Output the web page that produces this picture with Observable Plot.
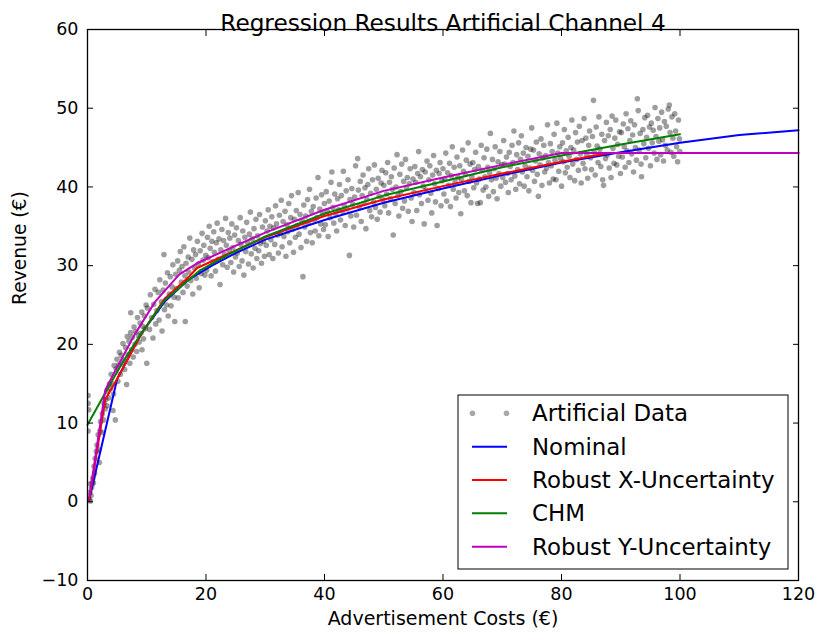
<!DOCTYPE html>
<html>
<head>
<meta charset="utf-8">
<script src="https://cdn.jsdelivr.net/npm/d3@7"></script>
<script src="https://cdn.jsdelivr.net/npm/@observablehq/plot@0.6"></script>
<style>
  body { margin: 0; background: #fff; }
  #chart svg { display: block; }
</style>
</head>
<body>
<div id="chart"></div>
<script>
const chartTitle = "Regression Results Artificial Channel 4";
const xLabel = "Advertisement Costs (€)";
const yLabel = "Revenue (€)";
const xTicks = [0, 20, 40, 60, 80, 100, 120];
const yTicks = [-10, 0, 10, 20, 30, 40, 50, 60];
const legendNames = ["Artificial Data", "Nominal", "Robust X-Uncertainty", "CHM", "Robust Y-Uncertainty"];
const legendColors = ["#000000", "#0000ff", "#ff0000", "#008000", "#bf00bf"];

// Fitted curves
const nominalCost = [0.3, 5, 9, 13, 17, 21, 25, 30, 40, 50, 60, 70, 80, 90, 100, 110, 120];
const nominalRevenue = [0.3, 15.6, 21.3, 25.4, 28.2, 30.0, 31.6, 33.3, 35.8, 38.0, 39.8, 41.5, 43.1, 44.4, 45.6, 46.6, 47.2];
const robustXCost = [0.3, 3, 5, 9, 13, 17, 18.5, 24, 30, 40, 50, 60, 70, 80, 88, 120];
const robustXRevenue = [0.3, 13.0, 15.6, 21.2, 25.8, 28.5, 29.7, 31.6, 33.6, 36.3, 38.4, 40.1, 41.7, 43.2, 44.3, 44.3];
const chmCost = [0, 4, 6, 9, 13, 19, 24, 30, 40, 50, 60, 70, 80, 90, 100];
const chmRevenue = [9.8, 15.2, 17.8, 21.3, 25.6, 29.4, 31.5, 33.7, 36.6, 38.9, 40.7, 42.5, 44.0, 45.4, 46.7];
const robustYCost = [0.3, 3, 5, 8, 11.5, 15.5, 18.5, 24, 30, 40, 50, 60, 70, 80, 120];
const robustYRevenue = [0.5, 14.2, 17.1, 21.3, 25.5, 28.9, 30.3, 32.2, 34.2, 37.1, 39.5, 41.2, 42.8, 44.3, 44.3];

// Artificial data points [cost, revenue]
const artificialData = [
[0.1,13.5],[0.1,12.5],[0.2,11.7],[0.1,9.0],[0.3,0.3],[0.4,1.2],[0.5,2.3],[0.6,0.8],[0.7,1.8],[0.8,2.4],[0.5,0.1],[1.0,2.4],[1.1,4.5],[1.2,3.6],[1.3,5.5],[1.5,6.4],[1.6,7.2],[1.8,8.5],[1.9,6.6],[2.1,9.0],[2.2,10.2],[2.4,8.8],[2.5,11.2],[2.7,10.4],[2.8,12.5],[3.0,11.8],[3.1,13.0],[3.3,12.2],[3.4,14.0],[3.6,13.2],[3.7,15.0],[3.9,14.4],[4.0,16.2],[4.2,15.0],[4.4,13.7],[4.5,17.3],[4.3,11.6],[2.0,5.0],[0.9,3.0],[4.7,10.4],
[4.83,16.9],[4.97,18.1],[5.12,15.3],[5.26,17.4],[5.4,19.0],[5.55,16.2],[5.69,18.6],[5.84,17.5],[5.98,20.1],[6.13,18.0],[6.27,16.8],[6.42,19.6],[6.6,14.9],[6.71,21.0],[6.85,18.7],[7.0,20.4],[7.14,17.6],[7.28,21.5],[7.3,24.0],[7.43,19.3],[7.57,20.9],[7.72,18.4],[7.86,22.2],[8.01,20.0],[8.15,21.6],[8.3,19.1],[8.44,23.4],[8.59,21.1],[8.73,20.3],[8.88,22.7],[9.02,21.4],[9.16,24.1],[9.2,19.3],[9.31,22.3],[9.45,20.7],[9.6,23.6],[9.74,22.0],[9.89,25.0],[10.0,17.6],
[10.12,24.6],[10.47,21.9],[10.61,26.3],[10.83,23.4],[11.05,20.8],[11.18,25.1],[11.39,27.0],[11.52,22.6],[11.71,24.3],[11.94,26.6],[12.08,23.1],[12.21,28.2],[12.46,25.4],[12.58,21.7],[12.77,26.9],[12.9,31.4],[12.99,24.4],[13.14,27.8],[13.33,25.0],[13.49,29.1],[13.62,23.6],[13.8,26.4],[13.97,28.6],[14.1,24.9],[14.28,27.3],[14.41,30.1],[14.6,26.0],[14.73,22.9],[14.88,28.9],
[15.03,27.1],[15.22,30.6],[15.31,25.9],[15.5,29.4],[15.66,31.8],[15.84,27.9],[15.95,29.9],[16.11,26.6],[16.27,32.4],[16.45,28.7],[16.5,22.9],[16.63,30.3],[16.82,27.4],[16.99,31.1],[17.1,29.2],[17.26,33.5],[17.43,28.1],[17.61,30.8],[17.77,26.4],[17.9,32.0],[18.06,29.7],[18.24,31.4],[18.37,28.4],[18.55,33.1],[18.69,30.2],[18.85,27.2],[19.02,31.9],[19.18,29.0],[19.34,34.1],[19.5,30.7],[19.63,32.6],[19.81,28.8],[19.96,31.3],
[20.09,29.4],[20.25,33.6],[20.38,31.0],[20.54,35.0],[20.7,32.2],[20.86,28.7],[20.99,33.1],[21.13,30.5],[21.31,34.3],[21.42,31.7],[21.6,29.3],[21.75,32.9],[21.88,35.4],[22.04,30.8],[22.19,33.4],[22.37,27.6],[22.5,32.0],[22.68,34.6],[22.81,30.1],[22.97,33.2],[23.12,31.4],[23.3,36.0],[23.44,32.6],[23.57,29.8],[23.75,34.2],[23.91,31.9],[24.03,33.5],[24.2,30.4],[24.36,35.3],[24.52,32.3],[24.67,29.2],[24.84,33.9],[24.98,31.1],
[25.14,34.8],[25.29,31.6],[25.46,33.2],[25.61,29.9],[25.77,36.1],[25.9,32.7],[26.08,30.6],[26.21,34.4],[26.39,28.8],[26.55,33.6],[26.7,31.8],[26.86,35.5],[27.02,32.9],[27.17,30.2],[27.33,34.0],[27.49,36.8],[27.64,31.5],[27.8,33.4],[27.96,29.7],[28.1,34.7],[28.27,32.2],[28.43,35.9],[28.58,30.9],[28.71,33.8],[28.9,31.9],[29.04,36.5],[29.2,32.8],[29.36,30.3],[29.53,34.9],[29.68,33.1],[29.85,31.2],
[30.02,35.7],[30.18,32.6],[30.31,34.4],[30.5,37.1],[30.66,31.4],[30.79,35.0],[30.95,33.3],[31.11,36.2],[31.28,30.9],[31.43,34.8],[31.6,32.7],[31.74,37.6],[31.9,35.3],[32.07,33.9],[32.22,31.6],[32.39,36.4],[32.55,34.1],[32.7,38.3],[32.84,32.4],[33.01,35.6],[33.16,33.7],[33.34,36.9],[33.49,31.2],[33.66,35.2],[33.81,34.3],[33.97,37.9],[34.13,32.9],[34.3,36.1],[34.44,38.9],[34.6,34.6],[34.77,31.7],[34.92,35.9],
[35.08,33.6],[35.24,37.0],[35.39,35.1],[35.56,39.3],[35.71,34.0],[35.88,36.5],[36.03,32.3],[36.2,35.7],[36.36,28.6],[36.5,37.7],[36.67,34.9],[36.83,36.3],[36.98,33.1],[37.14,38.4],[37.3,35.4],[37.47,39.7],[37.62,34.2],[37.78,36.9],[37.94,32.9],[38.1,37.5],[38.25,35.8],[38.42,34.4],[38.58,38.6],[38.73,36.1],[38.9,41.2],[39.05,33.8],[39.2,37.2],[39.37,35.3],[39.52,39.0],[39.69,36.6],[39.84,34.6],[39.98,37.9],
[40.15,35.2],[40.3,39.4],[40.47,36.9],[40.62,33.7],[40.79,38.2],[40.94,36.1],[41.1,40.6],[41.25,41.9],[41.42,37.4],[41.57,35.4],[41.73,39.1],[41.9,36.6],[42.05,34.4],[42.21,38.5],[42.38,37.1],[42.53,40.3],[42.7,35.8],[42.85,38.9],[43.02,36.9],[43.18,42.0],[43.33,37.6],[43.5,35.1],[43.66,39.5],[43.82,37.2],[43.97,40.9],[44.2,31.3],[44.29,38.4],[44.44,36.3],[44.61,39.8],[44.77,37.8],[44.93,34.9],
[45.08,38.7],[45.25,42.7],[45.4,36.4],[45.6,43.6],[45.72,39.6],[45.88,37.5],[46.04,40.7],[46.2,35.6],[46.35,38.9],[46.51,41.5],[46.68,37.9],[46.83,39.9],[46.99,34.7],[47.15,38.4],[47.31,40.3],[47.46,42.3],[47.63,37.0],[47.78,39.2],[47.95,36.2],[48.1,40.9],[48.27,38.1],[48.42,42.8],[48.59,37.4],[48.74,39.7],[48.9,35.9],[49.06,41.1],[49.21,38.8],[49.38,36.8],[49.55,40.5],[49.7,42.1],[49.86,38.4],
[50.02,40.2],[50.18,37.6],[50.34,41.8],[50.49,39.1],[50.66,43.1],[50.81,36.7],[50.97,40.6],[51.13,38.5],[51.29,41.3],[51.45,39.7],[51.6,33.9],[51.76,42.4],[51.92,37.9],[52.08,40.0],[52.24,44.1],[52.39,38.9],[52.55,36.3],[52.72,41.6],[52.87,39.4],[53.03,42.9],[53.19,37.3],[53.35,40.7],[53.5,38.2],[53.67,43.5],[53.82,39.9],[53.98,41.2],[54.14,36.9],[54.3,40.4],[54.45,42.3],[54.62,38.6],[54.78,35.6],[54.93,41.0],
[55.1,39.3],[55.25,42.6],[55.41,40.6],[55.57,37.0],[55.73,41.7],[55.89,44.5],[56.04,39.0],[56.2,41.3],[56.36,37.9],[56.52,42.2],[56.67,40.1],[56.83,35.3],[56.99,41.9],[57.15,39.6],[57.3,43.3],[57.46,38.3],[57.62,40.9],[57.78,42.7],[57.94,39.2],[58.1,36.7],[58.25,41.5],[58.41,44.0],[58.57,40.4],[58.73,38.1],[58.88,42.1],[59.0,35.1],[59.2,39.8],[59.35,41.7],[59.51,43.1],[59.67,37.6],[59.83,40.8],
[60.0,42.3],[60.15,39.1],[60.31,41.0],[60.47,44.3],[60.62,38.2],[60.78,41.8],[60.94,40.2],[61.1,43.0],[61.26,37.5],[61.41,41.4],[61.57,45.1],[61.73,39.7],[61.89,42.5],[62.04,40.6],[62.2,38.6],[62.36,43.8],[62.52,41.2],[62.67,39.3],[62.83,42.7],[63.0,36.6],[63.14,40.9],[63.3,44.7],[63.46,42.0],[63.62,39.5],[63.78,41.6],[63.93,43.4],[64.09,38.9],[64.25,45.6],[64.41,40.7],[64.56,42.9],[64.72,38.0],[64.88,41.3],
[65.04,43.1],[65.19,39.9],[65.35,42.2],[65.51,44.4],[65.67,40.5],[65.82,37.9],[65.98,42.6],[66.14,41.0],[66.3,38.0],[66.45,45.3],[66.61,42.1],[66.77,39.6],[66.93,43.7],[67.08,41.3],[67.24,40.0],[67.4,44.8],[67.56,42.5],[67.71,38.8],[67.87,41.8],[68.0,46.8],[68.18,40.9],[68.34,43.5],[68.5,39.4],[68.66,42.3],[68.81,45.1],[68.97,41.1],[69.13,38.5],[69.29,43.2],[69.45,41.7],[69.6,44.5],[69.76,40.1],[69.92,42.8],
[70.08,41.2],[70.24,45.9],[70.39,42.9],[70.55,40.6],[70.71,43.8],[70.87,41.7],[71.02,39.3],[71.18,44.4],[71.34,42.6],[71.5,40.9],[71.65,45.3],[71.81,43.1],[71.97,47.1],[72.13,41.4],[72.28,39.7],[72.44,44.1],[72.6,42.2],[72.76,45.6],[72.92,40.4],[73.07,43.5],[73.23,46.5],[73.39,41.9],[73.55,44.3],[73.7,40.1],[73.86,42.7],[74.02,45.0],[74.18,41.3],[74.34,43.9],[74.49,39.5],[74.65,42.4],[74.81,44.8],[74.97,47.5],
[75.12,42.1],[75.28,44.7],[75.44,40.7],[75.6,43.3],[75.75,45.7],[75.91,41.6],[76.1,38.8],[76.23,44.2],[76.38,42.8],[76.54,46.1],[76.7,40.2],[76.86,43.7],[77.01,45.3],[77.17,41.9],[77.33,44.0],[77.49,42.4],[77.64,47.9],[77.8,43.1],[77.96,40.5],[78.12,45.5],[78.28,42.7],[78.43,44.5],[78.59,41.0],[78.75,46.7],[78.91,43.4],[79.06,40.9],[79.22,48.1],[79.38,44.3],[79.54,42.0],[79.7,45.1],[79.85,43.6],
[80.01,40.1],[80.17,45.6],[80.33,43.2],[80.49,47.3],[80.64,41.8],[80.8,44.6],[80.96,42.5],[81.12,46.3],[81.27,43.9],[81.43,41.2],[81.59,45.0],[81.75,48.5],[81.9,42.9],[82.06,44.7],[82.22,40.8],[82.38,46.9],[82.54,43.5],[82.69,45.7],[82.85,42.1],[83.01,47.7],[83.17,44.2],[83.32,40.5],[83.48,45.9],[83.64,43.0],[83.8,48.7],[83.96,42.3],[84.11,46.2],[84.27,44.0],[84.43,41.1],[84.59,45.3],[84.74,47.1],[84.9,43.7],
[85.06,42.2],[85.22,46.4],[85.4,51.0],[85.53,44.4],[85.69,41.5],[85.85,47.6],[86.01,45.2],[86.16,43.1],[86.32,48.9],[86.48,44.8],[86.64,42.6],[86.8,46.7],[86.95,40.9],[87.1,40.2],[87.27,45.9],[87.43,43.6],[87.58,48.2],[87.74,44.1],[87.9,46.5],[88.06,42.4],[88.22,47.3],[88.37,41.2],[88.53,49.0],[88.69,44.9],[88.85,43.0],[89.0,46.2],[89.16,48.5],[89.32,42.8],[89.48,45.4],[89.64,43.9],[89.79,47.0],[89.95,41.7],
[90.11,46.9],[90.27,43.8],[90.43,48.0],[90.58,45.1],[90.74,42.5],[90.9,49.3],[91.06,44.6],[91.21,47.4],[91.37,43.1],[91.53,45.9],[91.69,48.4],[91.85,44.2],[92.0,46.6],[92.16,41.9],[92.32,47.9],[92.48,45.0],[92.64,43.4],[92.8,51.2],[92.95,49.7],[93.11,44.7],[93.27,46.8],[93.43,42.9],[93.5,41.3],[93.74,47.3],[93.9,45.5],[94.06,48.8],[94.22,43.7],[94.37,46.3],[94.53,49.1],[94.69,44.9],[94.85,47.6],
[95.01,42.7],[95.16,48.1],[95.32,45.6],[95.48,47.2],[95.64,44.3],[95.79,50.1],[95.95,46.4],[96.11,43.5],[96.27,48.7],[96.43,45.8],[96.58,47.5],[96.74,44.1],[96.9,49.5],[97.06,46.0],[97.22,43.3],[97.37,48.3],[97.53,45.3],[97.69,47.7],[97.85,44.7],[98.01,49.9],[98.2,50.4],[98.32,46.9],[98.48,44.4],[98.64,48.9],[98.8,46.2],[98.95,43.9],[99.11,49.3],[99.27,47.1],[99.43,45.1],[99.6,43.2],[99.74,48.5],[99.9,46.1],[99.97,44.5]
];

const curves = [
  {name: legendNames[1], color: legendColors[1], cost: nominalCost, revenue: nominalRevenue},
  {name: legendNames[2], color: legendColors[2], cost: robustXCost, revenue: robustXRevenue},
  {name: legendNames[3], color: legendColors[3], cost: chmCost, revenue: chmRevenue},
  {name: legendNames[4], color: legendColors[4], cost: robustYCost, revenue: robustYRevenue}
].map(c => ({...c, rows: c.cost.map((x, i) => ({x, y: c.revenue[i]}))}));

const FONT = "DejaVu Sans";
const fmt = d => d < 0 ? "\u2212" + Math.abs(d) : String(d);

const chart = Plot.plot({
  width: 819,
  height: 640,
  marginLeft: 87,
  marginRight: 21,
  marginTop: 29,
  marginBottom: 60,
  x: {domain: [0, 120]},
  y: {domain: [-10, 60]},
  style: {fontFamily: FONT, fontSize: "17.5px", color: "#000", background: "#fff"},
  marks: [
    Plot.dot(artificialData, {x: d => d[0], y: d => d[1], r: 2.8, fill: "#000", fillOpacity: 0.38, stroke: "none", clip: true}),
    ...curves.map(c => Plot.line(c.rows, {x: "x", y: "y", stroke: c.color, strokeWidth: 2})),
    Plot.frame({stroke: "#000", strokeWidth: 1.3}),
    Plot.axisX({ticks: xTicks, anchor: "bottom", tickSize: -6, tickFormat: () => "", label: null}),
    Plot.axisX({ticks: xTicks, anchor: "top", tickSize: -6, tickFormat: () => "", label: null}),
    Plot.axisY({ticks: yTicks, anchor: "left", tickSize: -6, tickFormat: () => "", label: null}),
    Plot.axisY({ticks: yTicks, anchor: "right", tickSize: -6, tickFormat: () => "", label: null}),
    Plot.axisX({ticks: xTicks, anchor: "bottom", tickSize: 0, tickPadding: 7, tickFormat: fmt, label: null, fontSize: 17.5}),
    Plot.axisY({ticks: yTicks, anchor: "left", tickSize: 0, tickPadding: 9, tickFormat: fmt, label: null, fontSize: 17.5}),
    Plot.text([chartTitle], {text: d => d, frameAnchor: "top", dy: -15, fontSize: 23.2}),
    Plot.text([xLabel], {text: d => d, frameAnchor: "bottom", dy: 44, fontSize: 19}),
    Plot.text([yLabel], {text: d => d, frameAnchor: "left", dx: -67, rotate: -90, fontSize: 18.7})
  ]
});

// Legend (matplotlib style box, lower right)
const svg = d3.select(chart);
const lg = svg.append("g").attr("font-family", FONT).attr("font-size", 22.9).attr("text-anchor", "start");
lg.append("rect")
  .attr("x", 458).attr("y", 395).attr("width", 330).attr("height", 174)
  .attr("fill", "#fff").attr("stroke", "#000").attr("stroke-width", 1);
legendNames.forEach((name, i) => {
  const cy = 413.3 + i * 33.35;
  if (i === 0) {
    [472.5, 506.5].forEach(cx => lg.append("circle").attr("cx", cx).attr("cy", cy).attr("r", 2.8)
      .attr("fill", legendColors[0]).attr("fill-opacity", 0.34));
  } else {
    lg.append("line").attr("x1", 472).attr("x2", 507).attr("y1", cy).attr("y2", cy)
      .attr("stroke", legendColors[i]).attr("stroke-width", 2);
  }
  lg.append("text").attr("x", 532).attr("y", cy).attr("dy", "0.35em").attr("fill", "#000")
    .attr("text-anchor", "start").text(name);
});

document.getElementById("chart").appendChild(chart);
</script>
</body>
</html>
